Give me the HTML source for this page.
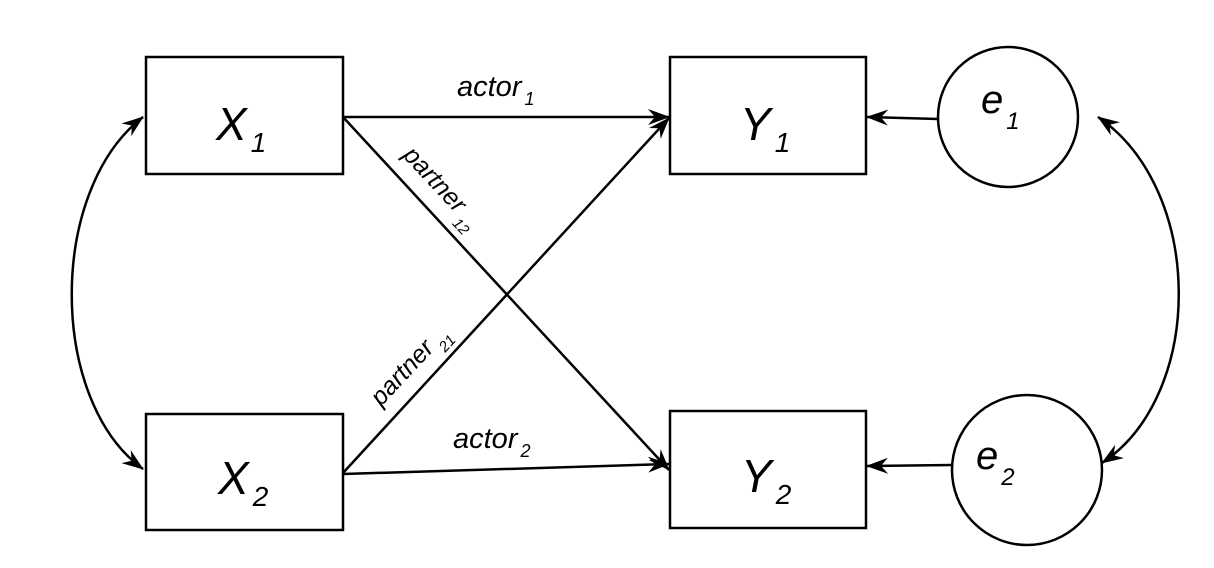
<!DOCTYPE html>
<html><head><meta charset="utf-8"><style>
html,body{margin:0;padding:0;background:#fff;}
svg{display:block;font-family:"Liberation Sans",Arial,sans-serif;}
</style></head><body>
<svg width="1214" height="568" viewBox="0 0 1214 568">
<defs>
<marker id="ah" viewBox="0 0 22 16" refX="21" refY="8" markerWidth="22" markerHeight="16" markerUnits="userSpaceOnUse" orient="auto-start-reverse">
<path d="M0,0 L22,8 L0,16 L7,8 Z" fill="#000"/>
</marker>
</defs>
<g stroke="#000" stroke-width="2.5" fill="none">
<rect x="146" y="57" width="197" height="117"/>
<rect x="670" y="57" width="196" height="117"/>
<rect x="146" y="414" width="197" height="116"/>
<rect x="670" y="411" width="196" height="117"/>
<circle cx="1008" cy="117" r="70"/>
<circle cx="1027" cy="470" r="75"/>
<line x1="343" y1="117" x2="669" y2="117" marker-end="url(#ah)"/>
<line x1="343" y1="117" x2="669" y2="470" marker-end="url(#ah)"/>
<line x1="343" y1="473" x2="669" y2="118" marker-end="url(#ah)"/>
<line x1="343" y1="474" x2="669" y2="464" marker-end="url(#ah)"/>
<line x1="938" y1="119" x2="867" y2="117" marker-end="url(#ah)"/>
<line x1="952" y1="465" x2="867" y2="466" marker-end="url(#ah)"/>
<path d="M143,117 C48,190 48,400 143,469" marker-start="url(#ah)" marker-end="url(#ah)"/>
<path d="M1098,117 C1205,190 1205,395 1102,463" marker-start="url(#ah)" marker-end="url(#ah)"/>
</g>
<g font-style="italic" fill="#000">
<text x="216" y="140" font-size="46">X<tspan font-size="28" dx="4" dy="12">1</tspan></text>
<text x="740" y="140" font-size="46">Y<tspan font-size="28" dx="4" dy="12">1</tspan></text>
<text x="218" y="494" font-size="46">X<tspan font-size="28" dx="4" dy="12">2</tspan></text>
<text x="741" y="492" font-size="46">Y<tspan font-size="28" dx="4" dy="12">2</tspan></text>
<text x="981" y="113" font-size="40">e<tspan font-size="24" dx="3" dy="16">1</tspan></text>
<text x="976" y="469" font-size="40">e<tspan font-size="24" dx="3" dy="16">2</tspan></text>
<text x="457" y="96" font-size="29">actor<tspan font-size="18" dx="3" dy="9">1</tspan></text>
<text x="453" y="448" font-size="29">actor<tspan font-size="18" dx="3" dy="9">2</tspan></text>
<text transform="translate(402,156) rotate(47)" font-size="25">partner<tspan font-size="15" dy="10"> 12</tspan></text>
<text transform="translate(381,407) rotate(-47)" font-size="25">partner<tspan font-size="15" dy="10"> 21</tspan></text>
</g>
</svg>
</body></html>
